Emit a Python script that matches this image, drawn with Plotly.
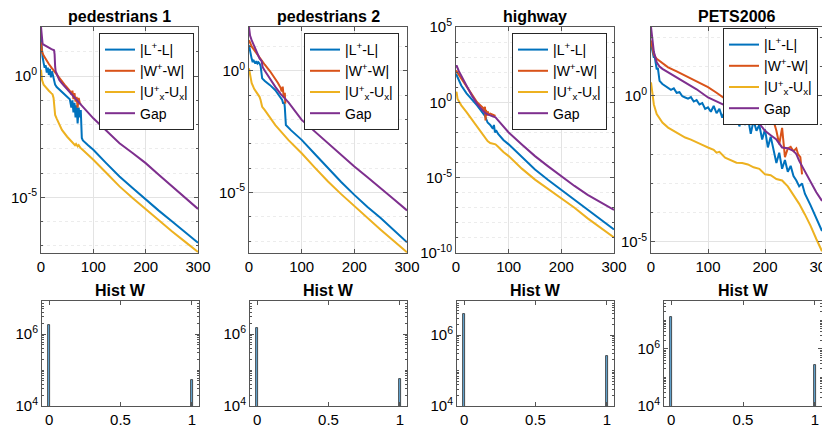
import numpy as np
import plotly.graph_objects as go

# MATLAB default line colours
C_L = "#0072BD"
C_W = "#D95319"
C_U = "#EDB120"
C_GAP = "#7E2F8E"
FONT = "Liberation Sans, Arial, Helvetica, sans-serif"
GRID = "#e3e3e3"
AXIS = "#555555"

TITLES = ["pedestrians 1", "pedestrians 2", "highway", "PETS2006"]
NAMES = ["|L<sup>+</sup>-L|", "|W<sup>+</sup>-W|",
         "|U<sup>+</sup><sub>x</sub>-U<sub>x</sub>|", "Gap"]

# ---- pedestrians 1 (values as log10) ----
P1_L_IT = [0, 1, 2, 3, 5, 7, 9, 11, 13, 15, 17, 19, 21, 23, 25, 27, 30, 35, 40, 45, 50, 55, 58, 60, 62, 64,
           66, 68, 70, 72, 74, 76, 78, 80, 90, 100, 125, 150, 175, 200, 225, 250, 275, 300]
P1_L_LOG = [1.62, 1.2, 0.95, 0.8, 0.55, 0.35, 0.45, 0.15, 0.35, 0.05, 0.3, -0.05, 0.2, 0.0, -0.1, -0.35,
            -0.45, -0.55, -0.65, -0.75, -0.85, -0.95, -1.3, -1.0, -1.5, -1.1, -1.7, -1.2, -1.95, -1.3, -1.7,
            -1.4, -2.55, -2.65, -2.85, -3.04, -3.6, -4.14, -4.62, -5.1, -5.55, -5.99, -6.45, -6.88]
P1_W_IT = [0, 2, 5, 10, 15, 20, 25, 30, 35, 40, 45, 50, 55, 58, 60, 62, 64, 66, 68, 70, 72, 74, 76]
P1_W_LOG = [1.4, 1.0, 0.85, 0.65, 0.5, 0.35, 0.2, 0.05, -0.1, -0.22, -0.35, -0.47, -0.6, -0.75, -0.6,
            -0.95, -0.7, -1.05, -0.85, -1.3, -0.9, -1.1, -1.15]
P1_U_IT = [0, 1, 2, 5, 10, 15, 20, 22, 24, 26, 27, 30, 35, 40, 50, 60, 65, 67, 70, 72, 75, 80, 90, 100,
           125, 150, 175, 200, 225, 250, 275, 300]
P1_U_LOG = [0.27, 0.1, -0.16, -0.35, -0.5, -0.6, -0.71, -0.75, -0.9, -1.4, -1.6, -1.75, -2.0, -2.22, -2.5,
            -2.75, -2.85, -2.8, -2.9, -2.85, -2.95, -3.05, -3.25, -3.45, -4.0, -4.55, -5.03, -5.5, -5.95,
            -6.4, -6.83, -7.26]
P1_G_IT = [0, 2, 3, 5, 10, 15, 20, 25, 26, 27, 28, 30, 35, 40, 50, 60, 74, 100, 125, 150, 175, 200, 225,
           250, 275, 300]
P1_G_LOG = [2.03, 1.5, 1.34, 1.3, 1.23, 1.17, 1.12, 1.07, 0.9, 0.4, 0.2, 0.1, -0.16, -0.3, -0.55, -0.78,
            -1.12, -1.74, -2.25, -2.77, -3.17, -3.59, -4.07, -4.55, -5.0, -5.48]

# ---- pedestrians 2 ----
P2_L_IT = [0, 2, 5, 7, 8, 10, 12, 14, 16, 18, 20, 22, 24, 25, 30, 40, 50, 60, 63, 65, 67, 68, 69, 70, 80,
           100, 125, 150, 175, 200, 225, 250, 275, 300]
P2_L_LOG = [1.05, 0.75, 0.5, 0.35, 0.45, 0.37, 0.3, 0.4, 0.3, 0.35, 0.3, 0.2, -0.1, -0.31, -0.42, -0.59,
            -0.8, -1.07, -1.2, -1.35, -1.3, -1.5, -2.0, -2.23, -2.45, -2.84, -3.42, -4.0, -4.57, -5.1, -5.6,
            -6.05, -6.55, -7.05]
P2_W_IT = [0, 3, 5, 10, 15, 20, 25, 30, 40, 50, 55, 60, 62, 64, 66, 68, 69]
P2_W_LOG = [1.26, 1.05, 1.0, 0.85, 0.7, 0.5, 0.37, 0.25, -0.02, -0.31, -0.5, -0.7, -0.85, -0.65, -1.1,
            -0.9, -1.35]
P2_U_IT = [0, 2, 3, 5, 10, 15, 20, 22, 24, 25, 30, 40, 50, 75, 100, 125, 150, 175, 200, 225, 250, 275, 300]
P2_U_LOG = [0.1, -0.2, -0.31, -0.5, -0.75, -0.9, -1.07, -1.2, -1.4, -1.48, -1.62, -1.95, -2.23, -2.85,
            -3.39, -3.98, -4.55, -5.07, -5.57, -6.05, -6.53, -7.0, -7.46]
P2_G_IT = [0, 2, 5, 10, 15, 20, 24, 26, 30, 40, 50, 60, 75, 100, 125, 150, 175, 200, 225, 250, 275, 300]
P2_G_LOG = [1.8, 1.45, 1.26, 1.0, 0.75, 0.51, 0.4, 0.15, 0.0, -0.35, -0.66, -0.95, -1.3, -2.02, -2.5,
            -2.98, -3.45, -3.93, -4.38, -4.82, -5.28, -5.74]

# ---- highway ----
P3_L_IT = [0, 5, 10, 20, 30, 40, 50, 55, 60, 65, 70, 72, 74, 76, 80, 90, 100, 125, 150, 175, 200, 225,
           250, 275, 300]
P3_L_LOG = [1.9, 1.5, 1.12, 0.6, 0.22, -0.2, -0.67, -0.9, -1.34, -1.5, -1.75, -1.5, -2.0, -1.85, -2.1,
            -2.5, -2.79, -3.65, -4.46, -5.15, -5.8, -6.48, -7.14, -7.8, -8.44]
P3_W_IT = [0, 5, 10, 20, 30, 40, 50, 53, 55, 56, 57, 58, 60, 62, 65, 70, 75]
P3_W_LOG = [2.12, 1.85, 1.6, 1.0, 0.45, 0.0, -0.33, -0.45, -0.3, -1.2, -0.5, -0.9, -0.6, -0.8, -0.75,
            -0.85, -0.9]
P3_U_IT = [0, 1, 3, 10, 20, 30, 40, 50, 60, 65, 70, 75, 80, 90, 100, 125, 150, 175, 200, 225, 250, 275, 300]
P3_U_LOG = [0.56, 0.7, 0.22, -0.2, -0.65, -1.12, -1.6, -2.1, -2.57, -2.7, -2.75, -2.79, -2.95, -3.3,
            -3.57, -4.4, -5.13, -5.75, -6.36, -7.0, -7.7, -8.35, -8.97]
P3_G_IT = [0, 1, 5, 10, 20, 30, 40, 50, 55, 60, 65, 70, 75, 80, 90, 100, 125, 150, 175, 200, 225, 250,
           275, 300]
P3_G_LOG = [2.3, 2.46, 2.1, 1.79, 1.1, 0.45, -0.1, -0.5, -0.7, -0.8, -0.85, -0.95, -1.0, -1.2, -1.6, -2.0,
            -2.8, -3.57, -4.25, -4.91, -5.55, -6.14, -6.65, -7.14]

# ---- PETS2006 ----
P4_L_IT = [0, 2, 3, 5, 6, 8, 10, 12, 15, 20, 25, 30, 35, 40, 45, 50, 55, 60, 65, 70, 75, 80, 85, 90, 95,
           100, 105, 110, 115, 120, 125, 130, 135, 140, 145, 150, 155, 160, 165, 170, 175, 180, 185, 190,
           195, 200, 205, 210, 215, 220, 225, 230, 235, 240, 245, 250, 255, 260, 265, 270, 280, 290, 300]
P4_L_LOG = [1.77, 1.6, 1.43, 1.3, 1.4, 1.09, 0.9, 0.95, 0.51, 0.4, 0.33, 0.29, 0.2, 0.25, 0.1, 0.12, -0.02,
            -0.06, -0.1, -0.05, -0.2, -0.15, -0.3, -0.25, -0.45, -0.4, -0.55, -0.35, -0.6, -0.45, -0.75,
            -0.5, -0.7, -0.55, -0.9, -0.6, -1.05, -0.7, -1.0, -0.75, -1.3, -0.85, -1.2, -1.0, -1.5, -1.15,
            -1.77, -1.4, -1.9, -2.3, -1.95, -2.5, -2.2, -2.6, -2.4, -2.75, -2.9, -3.1, -3.0, -3.35, -3.75,
            -4.2, -4.63]
P4_W_IT = [0, 3, 5, 10, 20, 30, 45, 60, 80, 100, 115, 130, 140, 150, 160, 170, 180, 190, 195, 200, 205,
           210, 215, 220, 225, 230, 235, 240, 245, 250, 255, 258, 262, 265]
P4_W_LOG = [1.89, 1.6, 1.4, 1.26, 1.1, 0.97, 0.83, 0.69, 0.5, 0.29, 0.1, -0.11, -0.15, -0.23, -0.3, -0.4,
            -0.5, -0.63, -0.7, -0.97, -0.75, -0.9, -0.86, -1.2, -1.66, -1.1, -2.1, -1.8, -1.75, -1.9, -1.8,
            -2.0, -2.1, -2.69]
P4_U_IT = [0, 2, 3, 5, 10, 15, 20, 30, 40, 50, 60, 70, 80, 90, 100, 110, 115, 120, 130, 140, 150, 160,
           170, 180, 190, 200, 210, 220, 230, 240, 250, 260, 270, 280, 290, 300]
P4_U_LOG = [0.46, 0.1, -0.06, -0.3, -0.63, -0.8, -0.92, -1.09, -1.2, -1.32, -1.43, -1.5, -1.6, -1.68,
            -1.77, -1.85, -1.95, -1.92, -2.12, -2.2, -2.29, -2.3, -2.35, -2.45, -2.5, -2.69, -2.72, -2.85,
            -2.9, -3.1, -3.38, -3.7, -4.06, -4.45, -4.9, -5.32]
P4_G_IT = [0, 2, 3, 5, 10, 15, 20, 30, 45, 60, 80, 100, 115, 130, 150, 170, 190, 200, 210, 220, 230, 240,
           250, 255, 260, 270, 280, 290, 300]
P4_G_LOG = [2.35, 1.9, 1.77, 1.5, 1.14, 1.0, 0.92, 0.8, 0.62, 0.46, 0.22, -0.06, -0.2, -0.34, -0.5, -0.7,
            -0.95, -1.2, -1.35, -1.5, -1.77, -1.8, -1.89, -2.0, -2.23, -2.6, -2.95, -3.3, -3.6]

# y-axis limits (log10) of the four convergence panels
TOP_YRANGE = [[-7.3, 2.03], [-7.49, 1.8], [-10, 5], [-5.38, 2.35]]
TOP_YTICKS = [[0, -5], [0, -5], [5, 0, -5, -10], [0, -5]]

# ---- histograms of W ----
HIST_X = [0, 1]
HIST_COUNTS = [[1.8e6, 5.3e4], [1.5e6, 5.6e4], [3.9e6, 2.6e5], [1.3e7, 2.7e5]]
HIST_YTOP = [6.92, 6.92, 6.96, 7.68]

series = [
    [(P1_L_IT, P1_L_LOG), (P1_W_IT, P1_W_LOG), (P1_U_IT, P1_U_LOG), (P1_G_IT, P1_G_LOG)],
    [(P2_L_IT, P2_L_LOG), (P2_W_IT, P2_W_LOG), (P2_U_IT, P2_U_LOG), (P2_G_IT, P2_G_LOG)],
    [(P3_L_IT, P3_L_LOG), (P3_W_IT, P3_W_LOG), (P3_U_IT, P3_U_LOG), (P3_G_IT, P3_G_LOG)],
    [(P4_L_IT, P4_L_LOG), (P4_W_IT, P4_W_LOG), (P4_U_IT, P4_U_LOG), (P4_G_IT, P4_G_LOG)],
]
colors = [C_L, C_W, C_U, C_GAP]

W, H = 830, 436
OFF = 8  # page body margin of the html file


def px_x(s):
    return (s - OFF) / W


def px_y(s):
    return 1 - (s - OFF) / H


top_px = [(41, 198), (249, 407), (456, 614), (651, 822)]
bot_px = [(42, 199), (250, 407), (457, 614), (664, 822)]
top_y = [px_y(253), px_y(27)]
bot_y = [px_y(406), px_y(301)]
legend_pos = [(194, 33), (399, 33), (607, 33), (818, 28)]


def sup(k):
    return "10<sup>%d</sup>" % k


def base_axis():
    return dict(zeroline=False, automargin=False,
                showline=True, linecolor=AXIS, linewidth=1, mirror="ticks",
                ticks="inside", ticklen=4, tickcolor=AXIS,
                tickfont=dict(size=15, color="#000000"))


fig = go.Figure()
layout = dict(
    width=W, height=H, margin=dict(l=0, r=0, t=0, b=0, autoexpand=False),
    paper_bgcolor="white", plot_bgcolor="white",
    font=dict(family=FONT, size=14, color="#000000"),
    bargap=0,
)
annotations = []

for i in range(4):
    n = i + 1
    xa = "x" if n == 1 else "x%d" % n
    ya = "y" if n == 1 else "y%d" % n
    leg = "legend" if n == 1 else "legend%d" % n
    for (it, lg), c, name in zip(series[i], colors, NAMES):
        fig.add_trace(go.Scatter(
            x=it, y=np.power(10.0, lg), mode="lines", name=name,
            line=dict(color=c, width=2), xaxis=xa, yaxis=ya, legend=leg))

    lo, hi = TOP_YRANGE[i]
    decades = [10.0 ** k for k in range(int(np.floor(lo)), int(np.ceil(hi)) + 1)]
    layout["xaxis" if n == 1 else "xaxis%d" % n] = dict(
        base_axis(),
        domain=[px_x(top_px[i][0]), px_x(top_px[i][1])], anchor=ya,
        range=[0, 300], tickvals=[0, 100, 200, 300],
        showgrid=True, gridcolor=GRID)
    layout["yaxis" if n == 1 else "yaxis%d" % n] = dict(
        base_axis(),
        domain=top_y, anchor=xa, type="log", range=[lo, hi],
        tickvals=[10.0 ** k for k in TOP_YTICKS[i]],
        ticktext=[sup(k) for k in TOP_YTICKS[i]],
        showgrid=True, gridcolor=GRID,
        minor=dict(tickmode="array", tickvals=decades, ticks="inside", ticklen=2,
                   tickcolor=AXIS, showgrid=True, gridcolor="#ececec", griddash="dot"))
    lx, ly = legend_pos[i]
    layout[leg] = dict(
        x=px_x(lx), y=px_y(ly), xanchor="right", yanchor="top",
        bgcolor="white", bordercolor="#262626", borderwidth=1,
        font=dict(size=14), itemwidth=30, tracegroupgap=0)
    annotations.append(dict(
        text="<b>%s</b>" % TITLES[i], x=px_x((top_px[i][0] + top_px[i][1]) / 2), y=px_y(16),
        xref="paper", yref="paper", xanchor="center", yanchor="middle",
        showarrow=False, font=dict(size=16)))

    # histogram panel
    m = i + 5
    xb = "x%d" % m
    yb = "y%d" % m
    fig.add_trace(go.Bar(
        x=HIST_X, y=HIST_COUNTS[i], width=0.016, showlegend=False,
        marker=dict(color="rgba(0,114,189,0.6)", line=dict(color="#2b2b2b", width=0.8)),
        xaxis=xb, yaxis=yb))
    layout["xaxis%d" % m] = dict(
        base_axis(),
        domain=[px_x(bot_px[i][0]), px_x(bot_px[i][1])], anchor=yb,
        range=[-0.05, 1.05], tickvals=[0, 0.5, 1], ticktext=["0", "0.5", "1"],
        showgrid=False)
    layout["yaxis%d" % m] = dict(
        base_axis(),
        domain=bot_y, anchor=xb, type="log", range=[4, HIST_YTOP[i]],
        tickvals=[1e4, 1e6], ticktext=[sup(4), sup(6)],
        showgrid=False,
        minor=dict(ticks="inside", ticklen=2, tickcolor=AXIS, dtick="D1"))
    annotations.append(dict(
        text="<b>Hist W</b>", x=px_x((bot_px[i][0] + bot_px[i][1]) / 2), y=px_y(290),
        xref="paper", yref="paper", xanchor="center", yanchor="middle",
        showarrow=False, font=dict(size=16)))

layout["annotations"] = annotations
fig.update_layout(**layout)
fig.write_html("out.html")
